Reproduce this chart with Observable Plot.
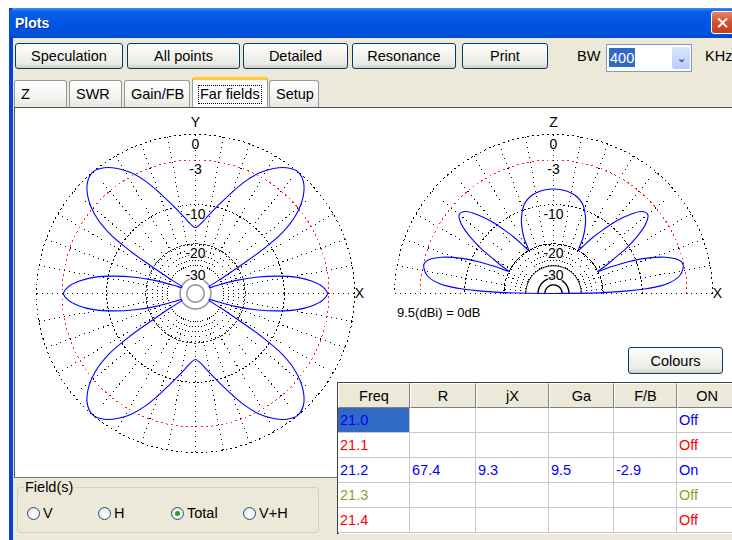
<!DOCTYPE html>
<html><head><meta charset="utf-8">
<script src="https://cdn.jsdelivr.net/npm/d3@7"></script>
<script src="https://cdn.jsdelivr.net/npm/@observablehq/plot@0.6"></script>
<style>
body{margin:0;width:732px;height:540px;overflow:hidden;position:relative;background:#fff;font-family:"Liberation Sans",Arial,sans-serif;font-size:14px;color:#000}
.a{position:absolute;box-sizing:border-box}
.btn{border:1px solid #003C74;border-radius:3px;background:linear-gradient(#ffffff,#f4f4f0 40%,#ecebe6 80%,#d6d0c5);display:flex;align-items:center;justify-content:center;white-space:nowrap;font-size:14.5px}
.tab{border:1px solid #919B9C;border-bottom:none;border-radius:3px 3px 0 0;background:linear-gradient(#ffffff,#f6f6f3 50%,#e8e8e2);padding-left:6px;display:flex;align-items:center;white-space:nowrap;font-size:14.5px}
.tab.sel{background:#fcfcfe;border-top:3px solid #FFC83C}
.cell{border-right:1px solid #c8c8c8;border-bottom:1px solid #c8c8c8;padding-left:2px;display:flex;align-items:center;white-space:nowrap;overflow:hidden;background:#fff;font-size:14.5px}
.hcell{border-right:1px solid #808080;border-bottom:1px solid #808080;border-top:1px solid #fff;border-left:1px solid #fff;background:#ECE9D8;display:flex;align-items:center;justify-content:center;font-size:14.5px}
.radio{width:13px;height:13px;border-radius:50%;border:1px solid #1C5180;background:radial-gradient(circle at 60% 60%,#fff 20%,#dcdcd5 90%)}
</style></head>
<body>
<script>
// ---------------- data ----------------
const windowTitle = "Plots";
const buttonLabels = ["Speculation", "All points", "Detailed", "Resonance", "Print"];
const bwLabel = "BW", bwValue = "400", bwUnit = "KHz";
const tabLabels = ["Z", "SWR", "Gain/FB", "Far fields", "Setup"];
const activeTab = "Far fields";
const ringDb = [0, -3, -10, -20, -30];          // labelled rings (dB)
const innerRingDb = [-40, -50];                  // unlabelled inner rings
const refGainDbi = 9.5;
const colourButton = "Colours";
// azimuth (horizontal) pattern, angle from +X counter-clockwise, dB relative to max
const azAngles = [0,3,6,9,12,15,18,21,23,27,29,30,31,32,33,35,38,42,46,50,54,58,62,66,70,74,78,82,86,
  90,94,98,102,106,110,114,118,122,126,130,134,138,142,145,147,148,149,150,151,153,157,159,162,165,168,171,174,177,
  180,183,186,189,192,195,198,201,203,207,209,210,211,212,213,215,218,222,226,230,234,238,242,246,250,254,258,262,266,
  270,274,278,282,286,290,294,298,302,306,310,314,318,322,325,327,328,329,330,331,333,337,339,342,345,348,351,354,357];
const azDb = [-3.2,-3.8,-5.2,-7.4,-11,-16,-23,-35,-40,-40,-34,-28,-23,-18,-12.5,-7,-3.8,-1.6,-0.4,0,-0.4,-1.3,-2.6,-4.4,-6.6,-8.8,-10.8,-12.6,-14.2,
  -15.1,-14.2,-12.6,-10.8,-8.8,-6.6,-4.4,-2.6,-1.3,-0.4,0,-0.4,-1.6,-3.8,-7,-12.5,-18,-23,-28,-34,-40,-40,-35,-23,-16,-11,-7.4,-5.2,-3.8,
  -3.2,-3.8,-5.2,-7.4,-11,-16,-23,-35,-40,-40,-34,-28,-23,-18,-12.5,-7,-3.8,-1.6,-0.4,0,-0.4,-1.3,-2.6,-4.4,-6.6,-8.8,-10.8,-12.6,-14.2,
  -15.1,-14.2,-12.6,-10.8,-8.8,-6.6,-4.4,-2.6,-1.3,-0.4,0,-0.4,-1.6,-3.8,-7,-12.5,-18,-23,-28,-34,-40,-40,-35,-23,-16,-11,-7.4,-5.2,-3.8];
// elevation (vertical) pattern, angle from +X over Z, dB relative to max
const elAngles = [0,1,2,3,5,8,11,13,15,18,21,23,25,26.5,28,30,32,34,37,40,43,46,49,52,55,58,60,62,65,68,72,76,80,85,
  90,95,100,104,108,112,115,118,120,122,125,128,131,134,137,140,143,146,148,150,152,153.5,155,157,159,162,165,167,169,172,175,177,178,179,180];
const elDb = [-99,-20,-13,-9,-5.6,-3.8,-3.2,-3.1,-3.5,-5.2,-8.3,-11.5,-16,-20,-17,-14,-10.5,-8,-5.5,-4.4,-4.8,-6.4,-8.6,-11.5,-14.5,-18,-20,-16,-12.8,-10.8,-9,-8.1,-7.6,-7.3,
  -7.2,-7.3,-7.6,-8.1,-9,-10.8,-12.8,-16,-20,-18,-14.5,-11.5,-8.6,-6.4,-4.8,-4.4,-5.5,-8,-10.5,-14,-17,-20,-16,-11.5,-8.3,-5.2,-3.5,-3.1,-3.2,-3.8,-5.6,-9,-13,-20,-99];
const tableHeaders = ["Freq", "R", "jX", "Ga", "F/B", "ON"];
const freqs = ["21.0", "21.1", "21.2", "21.3", "21.4"];
const rVals = ["", "", "67.4", "", ""];
const jxVals = ["", "", "9.3", "", ""];
const gaVals = ["", "", "9.5", "", ""];
const fbVals = ["", "", "-2.9", "", ""];
const onVals = ["Off", "Off", "On", "Off", "Off"];
const selectedFreq = "21.0";
const fieldLabel = "Field(s)";
const fieldOptions = ["V", "H", "Total", "V+H"];
const fieldSelected = "Total";

// ---------------- styles / layout ----------------
const rowColors = ["#0000ff", "#ff0000", "#0000ff", "#9a9a2a", "#ff0000"];
const btnX = [15, 127, 243, 352, 462], btnW = [108, 113, 105, 104, 86];
const tabX = [14, 69, 124, 192, 269], tabW = [53, 53, 66, 76, 50];
const colX = [338, 410, 476, 549, 614, 677], colW = [72, 66, 73, 65, 63, 60];
const radioX = [26, 97, 170, 242];

function el(tag, cls, css, text, parent) {
  const e = document.createElement(tag);
  if (cls) e.className = cls;
  e.style.cssText = css;
  if (text != null) e.textContent = text;
  (parent || document.body).appendChild(e);
  return e;
}
// window frame
el("div", "a", "left:9px;top:8px;width:740px;height:540px;background:#ECE9D8;border-left:4px solid #0842D6");
el("div", "a", "left:9px;top:8px;width:740px;height:30px;border-radius:7px 7px 0 0;background:linear-gradient(#3d8cf7 0%,#0a5fe8 12%,#0055e5 50%,#0052de 85%,#0046c6 100%);color:#fff;font-weight:bold;font-size:14px;padding-left:6px;display:flex;align-items:center;text-shadow:1px 1px #0a2a80", windowTitle);
el("div", "a", "left:711px;top:11px;width:23px;height:23px;border:1px solid #fff;border-radius:3px;background:linear-gradient(#e8846a,#d0502e 50%,#c0401f);color:#fff;font-weight:bold;font-size:17px;display:flex;align-items:center;justify-content:center;font-family:'DejaVu Sans'", "✕");
// buttons
buttonLabels.forEach((b, i) => el("div", "a btn", `left:${btnX[i]}px;top:43px;width:${btnW[i]}px;height:26px`, b));
el("div", "a", "left:577px;top:48px;height:18px;font-size:14.5px", bwLabel);
const combo = el("div", "a", "left:606px;top:44px;width:86px;height:28px;background:#fff;border:1px solid #7F9DB9");
el("div", "a", "left:2px;top:3px;height:19px;padding:0 1px;background:#316AC5;color:#fff;display:flex;align-items:center;font-size:14.5px", bwValue, combo);
el("div", "a", "left:65px;top:2px;width:18px;height:22px;border-radius:2px;background:linear-gradient(#dbe6fe,#b9cdf8);color:#4d6185;font-size:11px;display:flex;align-items:center;justify-content:center;font-weight:bold", "⌄", combo);
el("div", "a", "left:705px;top:48px;height:18px;white-space:nowrap;font-size:14.5px", bwUnit);
// tabs
tabLabels.forEach((t, i) => {
  const sel = t === activeTab;
  const tb = el("div", "a tab" + (sel ? " sel" : ""), `left:${tabX[i]}px;top:${sel ? 77 : 80}px;width:${tabW[i]}px;height:${sel ? 31 : 27}px`);
  el("span", "", sel ? "outline:1px dotted #000;padding:0 1px;line-height:17px" : "", t, tb);
});
// plot panel
el("div", "a", "left:14px;top:107px;width:720px;height:371px;background:#fff;border-top:1px solid #555;border-left:1px solid #555;border-bottom:1px solid #777");

// ---------------- polar plots ----------------
const R = 159;
const rad = db => Math.pow(0.89, -db / 2);
const cs = a => Math.cos(a * Math.PI / 180), sn = a => Math.sin(a * Math.PI / 180);

function polar({left, top, width, height, cx, cy, a0, a1, pattern, closed, ringStyles, axisNames}) {
  const marks = [];
  // spokes
  const spokes = [];
  for (let a = a0; a <= a1; a += 10) spokes.push({a, from: -30, to: 0});
  for (let a = a0 + 5; a < a1; a += 10) spokes.push({a, from: -30, to: -20});
  marks.push(Plot.link(spokes, {x1: d => rad(d.from) * cs(d.a), y1: d => rad(d.from) * sn(d.a),
    x2: d => rad(d.to) * cs(d.a), y2: d => rad(d.to) * sn(d.a), stroke: "#000", strokeDasharray: "1,4",
    strokeWidth: 1, shapeRendering: "crispEdges"}));
  // rings
  for (const s of ringStyles) {
    if (!s.stroke) continue;
    const pts = d3.range(a0, a1 + 0.5, 1).map(a => ({a, r: rad(s.db)}));
    marks.push(Plot.line(pts, {x: d => d.r * cs(d.a), y: d => d.r * sn(d.a), stroke: s.stroke,
      strokeWidth: s.w || 1, strokeDasharray: s.dash || null, shapeRendering: s.dash ? "crispEdges" : "auto"}));
  }
  // pattern
  marks.push(Plot.line(pattern, {x: d => rad(d.db) * cs(d.a), y: d => rad(d.db) * sn(d.a),
    stroke: "#0000ff", strokeWidth: 1.1, curve: closed ? "catmull-rom-closed" : "catmull-rom"}));
  // ring labels
  marks.push(Plot.text(ringDb, {x: 0, y: d => rad(d), dy: 10, text: d => String(d), fill: "#000",
    stroke: "#fff", strokeWidth: 2, fontSize: 14}));
  // axis names
  marks.push(Plot.text([axisNames[0]], {x: d => rad(0) + 5 / R, y: 0, text: d => d, fill: "#000", fontSize: 14, textAnchor: "middle"}));
  marks.push(Plot.text([axisNames[1]], {x: 0, y: d => rad(0) + 12 / R, text: d => d, fill: "#000", fontSize: 14}));
  const svg = Plot.plot({width, height, margin: 0,
    x: {domain: [-cx / R, (width - cx) / R], range: [0, width], axis: null},
    y: {domain: [-(height - cy) / R, cy / R], range: [height, 0], axis: null},
    style: {background: "transparent", fontFamily: "Liberation Sans, Arial, sans-serif", overflow: "visible"},
    marks});
  svg.style.position = "absolute";
  svg.style.left = left + "px";
  svg.style.top = top + "px";
  document.body.appendChild(svg);
}

const azPattern = azAngles.map((a, i) => ({a, db: azDb[i]}));
const elPattern = elAngles.map((a, i) => ({a, db: elDb[i]}));
const baseRings = [
  {db: 0, stroke: "#000", dash: "1,4"},
  {db: -3, stroke: "#ff2020", dash: "1,4"},
  {db: -10, stroke: "#000", dash: "1,3"}
];
polar({left: 20, top: 110, width: 360, height: 360, cx: 175, cy: 183, a0: 0, a1: 360, pattern: azPattern, closed: true,
  axisNames: ["X", "Y"],
  ringStyles: [...baseRings, {db: -20, stroke: "#333", dash: "2,2"},
    {db: innerRingDb[0], stroke: "#999", w: 1.6}, {db: innerRingDb[1], stroke: "#999", w: 1.6}]});
polar({left: 380, top: 110, width: 352, height: 200, cx: 173, cy: 183, a0: 0, a1: 180, pattern: elPattern, closed: false,
  axisNames: ["X", "Z"],
  ringStyles: [...baseRings, {db: -20, stroke: "#000", dash: "3,2"}, {db: -30, stroke: "#000", w: 1},
    {db: innerRingDb[0], stroke: "#000", w: 1.4}, {db: innerRingDb[1], stroke: "#000", w: 1.4}]});

el("div", "a", "left:397px;top:305px;font-size:13px;white-space:nowrap", `${refGainDbi}(dBi) = 0dB`);
el("div", "a btn", "left:628px;top:347px;width:95px;height:27px", colourButton);

// ---------------- table ----------------
const tbl = el("div", "a", "left:337px;top:382px;width:400px;height:152px;background:#fff;border-top:1px solid #404040;border-left:2px solid #404040");
const cols = [freqs, rVals, jxVals, gaVals, fbVals, onVals];
tableHeaders.forEach((h, j) => el("div", "a hcell", `left:${colX[j] - 339}px;top:0px;width:${colW[j]}px;height:25px`, h, tbl));
freqs.forEach((f, i) => cols.forEach((col, j) => {
  const selCell = j === 0 && f === selectedFreq;
  el("div", "a cell", `left:${colX[j] - 339}px;top:${25 + i * 25}px;width:${colW[j]}px;height:25px;color:${rowColors[i]};${selCell ? "background:#316AC5;" : ""}`, col[i], tbl);
}));

// ---------------- field group ----------------
const grp = el("div", "a", "left:17px;top:487px;width:302px;height:46px;border:1px solid #D0D0BF;border-radius:3px");
el("div", "a", "left:6px;top:-9px;background:#ECE9D8;padding:0 1px;line-height:16px;font-size:14.5px", fieldLabel, grp);
fieldOptions.forEach((f, i) => {
  const r = el("div", "a radio", `left:${radioX[i] - 17}px;top:19px`, null, grp);
  if (f === fieldSelected) el("div", "a", "left:3px;top:3px;width:5px;height:5px;border-radius:50%;background:#21a121", null, r);
  el("div", "a", `left:${radioX[i] - 17 + 16}px;top:17px;line-height:17px;font-size:14.5px`, f, grp);
});
</script>
</body></html>
